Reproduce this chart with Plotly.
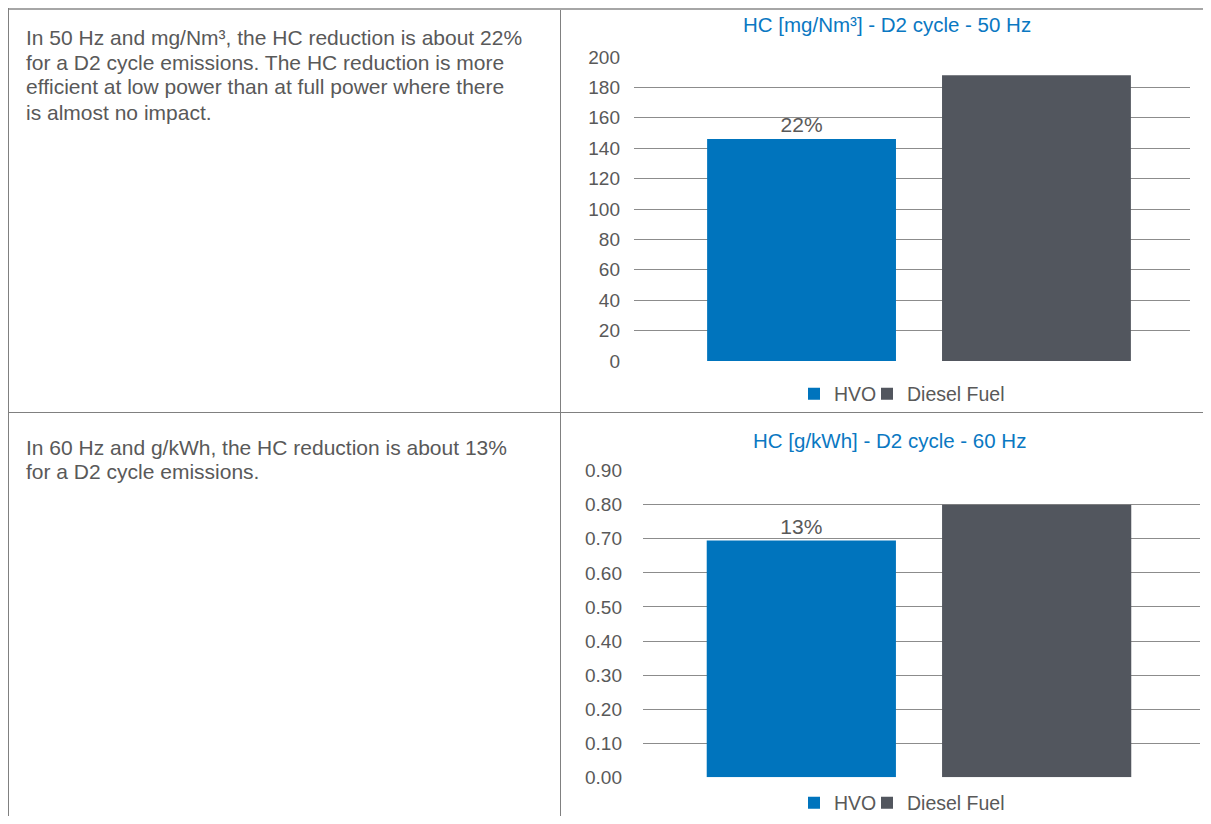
import plotly.graph_objects as go

# ---- data ----
series = ["HVO", "Diesel Fuel"]
hc_50hz = [146, 188]          # mg/Nm3
hc_60hz = [0.695, 0.80]       # g/kWh
labels_50hz = ["22%", ""]
labels_60hz = ["13%", ""]
ticks_50hz = list(range(0, 201, 20))
ticks_60hz = [0.0, 0.1, 0.2, 0.3, 0.4, 0.5, 0.6, 0.7, 0.8, 0.9]
title_50 = "HC [mg/Nm³] - D2 cycle - 50 Hz"
title_60 = "HC [g/kWh] - D2 cycle - 60 Hz"
text_50_lines = ["In 50 Hz and mg/Nm³, the HC reduction is about 22%",
                 "for a D2 cycle emissions. The HC reduction is more",
                 "efficient at low power than at full power where there",
                 "is almost no impact."]
text_60_lines = ["In 60 Hz and g/kWh, the HC reduction is about 13%",
                 "for a D2 cycle emissions."]
colors = ["#0074BD", "#52565E"]
legend_widths = [28, 0]

# page offset (body margin) compensation
OFF = 8
W, H = 1211 - 2 * OFF, 824 - 2 * OFF
FONT = "Liberation Sans"
GRAY = "#595959"
BLUE = "#0a78c2"


def px_x(p):
    return (p - OFF) / W


def px_y(p):
    return 1 - (p - OFF) / H


fig = go.Figure()

for i, name in enumerate(series):
    fig.add_trace(go.Bar(
        x=[""], y=[hc_50hz[i]], name=name, marker_color=colors[i],
        marker_line_width=0, text=[labels_50hz[i]], textposition="outside",
        textfont=dict(color=GRAY, size=21, family=FONT), cliponaxis=False,
        xaxis="x", yaxis="y", legend="legend", offsetgroup=str(i),
        legendwidth=legend_widths[i]))
for i, name in enumerate(series):
    fig.add_trace(go.Bar(
        x=[""], y=[hc_60hz[i]], name=name, marker_color=colors[i],
        marker_line_width=0, text=[labels_60hz[i]], textposition="outside",
        textfont=dict(color=GRAY, size=21, family=FONT), cliponaxis=False,
        xaxis="x2", yaxis="y2", legend="legend2", offsetgroup=str(i),
        legendwidth=legend_widths[i]))

grid = dict(showgrid=True, gridcolor="#8c8c8c", gridwidth=1, zeroline=False,
            showline=False, ticks="", tickfont=dict(size=19, color=GRAY, family=FONT),
            fixedrange=True)
leg = dict(orientation="h", xanchor="left", yanchor="middle",
           font=dict(size=19.5, color=GRAY, family=FONT), itemwidth=30,
           bgcolor="rgba(0,0,0,0)", borderwidth=0)

fig.update_layout(
    width=W, height=H,
    margin=dict(l=0, r=0, t=0, b=0, autoexpand=False),
    paper_bgcolor="white", plot_bgcolor="white",
    font=dict(family=FONT, color=GRAY, size=19),
    barmode="group", bargap=0.155, bargroupgap=0.196,
    showlegend=True,
    xaxis=dict(domain=[px_x(634), px_x(1190)], anchor="y", showticklabels=False,
               showgrid=False, zeroline=False, range=[-0.5126, 0.4874], fixedrange=True),
    yaxis=dict(domain=[px_y(361), px_y(57)], anchor="x", range=[-0.01, 200.01],
               tickvals=ticks_50hz, ticklabelstandoff=13, **grid),
    xaxis2=dict(domain=[px_x(643), px_x(1200)], anchor="y2", showticklabels=False,
                showgrid=False, zeroline=False, range=[-0.4955, 0.5045], fixedrange=True),
    yaxis2=dict(domain=[px_y(777.3), px_y(470.7)], anchor="x2", range=[-0.00005, 0.90005],
                tickvals=ticks_60hz, tickformat=".2f",
                ticklabelstandoff=20, **grid),
    legend=dict(x=px_x(794), y=px_y(394), **leg),
    legend2=dict(x=px_x(794), y=px_y(803), **leg),
)

# titles
fig.add_annotation(x=px_x(887), y=px_y(24.5), xref="paper", yref="paper", text=title_50,
                   showarrow=False, font=dict(size=20.5, color=BLUE, family=FONT),
                   xanchor="center", yanchor="middle")
fig.add_annotation(x=px_x(890), y=px_y(440), xref="paper", yref="paper", text=title_60,
                   showarrow=False, font=dict(size=20.5, color=BLUE, family=FONT),
                   xanchor="center", yanchor="middle")

# paragraphs (one annotation per line, 25 px line spacing)
for lines, y0 in ((text_50_lines, 37), (text_60_lines, 447)):
    for k, ln in enumerate(lines):
        fig.add_annotation(x=px_x(24), y=px_y(y0 + 25 * k), xref="paper", yref="paper",
                           text=ln, showarrow=False, align="left", xanchor="left",
                           yanchor="middle", font=dict(size=21, color=GRAY, family=FONT))

# table borders
line = dict(color="#808080", width=1)
fig.add_shape(type="line", xref="paper", yref="paper", x0=0, x1=1, y0=px_y(412.5), y1=px_y(412.5), line=line)
fig.add_shape(type="line", xref="paper", yref="paper", x0=px_x(560.5), x1=px_x(560.5), y0=0, y1=1, line=line)
fig.add_shape(type="line", xref="paper", yref="paper", x0=0, x1=1, y0=px_y(9), y1=px_y(9),
              line=dict(color="#a6a6a6", width=2))
fig.add_shape(type="line", xref="paper", yref="paper", x0=px_x(8.5), x1=px_x(8.5), y0=0, y1=1, line=line)

fig.write_html("out.html")
